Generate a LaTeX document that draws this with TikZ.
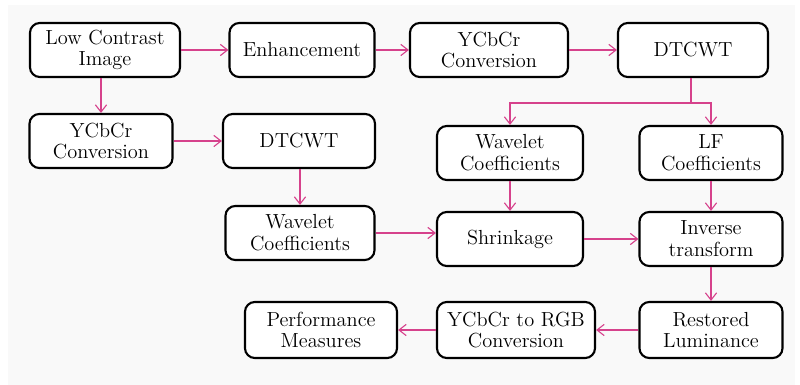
\documentclass[tikz,border=0pt]{standalone}
\usepackage{tikz}
\usetikzlibrary{arrows.meta, positioning, calc}
\definecolor{flowpink}{RGB}{214, 66, 140}
\definecolor{panelgray}{RGB}{249, 249, 249}

\begin{document}
\begin{tikzpicture}[x=0.025cm, y=-0.025cm,
    stagebox/.style={draw=black, line width=1.5pt, fill=white, rounded corners=7pt,
      minimum width=3.65cm, minimum height=1.35cm, align=center, inner sep=2pt,
      font=\fontsize{14.5}{15.5}\selectfont},
    flow/.style={draw=flowpink, line width=0.8pt, -{Straight Barb[length=1.8mm, width=2.8mm]}}]
  \useasboundingbox (0,0) rectangle (800,385);
  \fill[panelgray] (8,5) rectangle (795,385);

  % first row
  \node[stagebox, minimum width=3.75cm] (lowimg) at (105, 50) {Low Contrast\\Image};
  \node[stagebox, minimum width=3.625cm] (enhance) at (302, 50) {Enhancement};
  \node[stagebox, minimum width=3.95cm] (ycbcra) at (489, 50) {YCbCr\\Conversion};
  \node[stagebox, minimum width=3.75cm] (dtcwta) at (693, 50) {DTCWT};

  % second row
  \node[stagebox, minimum width=3.575cm] (ycbcrb) at (101, 141) {YCbCr\\Conversion};
  \node[stagebox, minimum width=3.8cm] (dtcwtb) at (299, 141) {DTCWT};
  \node[stagebox] (waveleta) at (510, 153) {Wavelet\\Coefficients};
  \node[stagebox, minimum width=3.575cm] (lfcoef) at (711, 153) {LF\\Coefficients};

  % third row
  \node[stagebox, minimum width=3.725cm] (waveletb) at (300, 233) {Wavelet\\Coefficients};
  \node[stagebox] (shrink) at (510, 239) {Shrinkage};
  \node[stagebox, minimum width=3.575cm] (inverse) at (711, 239) {Inverse\\transform};

  % last row
  \node[stagebox, minimum width=3.8cm, minimum height=1.4cm] (perf) at (321, 330) {Performance\\Measures};
  \node[stagebox, minimum width=3.95cm, minimum height=1.4cm] (torgb) at (516, 330) {YCbCr to RGB\\Conversion};
  \node[stagebox, minimum width=3.575cm, minimum height=1.4cm] (restored) at (711, 330) {Restored\\Luminance};

  % connectors
  \draw[flow] (lowimg) -- (enhance);
  \draw[flow] (enhance) -- (ycbcra);
  \draw[flow] (ycbcra) -- (dtcwta);
  \draw[flow] (lowimg.south -| ycbcrb) -- (ycbcrb.north);
  \draw[flow] (ycbcrb) -- (dtcwtb);
  \draw[flow] (dtcwtb.south -| waveletb) -- (waveletb.north);

  \coordinate (split) at (691, 103);
  \draw[draw=flowpink, line width=0.8pt] (dtcwta.south -| split) -- (split);
  \draw[flow] (split) -| (waveleta.north);
  \draw[flow] (split) -| (lfcoef.north);

  \draw[flow] (waveleta) -- (shrink);
  \draw[flow] (lfcoef) -- (inverse);
  \draw[flow] (waveletb.east) -- (waveletb.east -| shrink.west);
  \draw[flow] (shrink) -- (inverse);
  \draw[flow] (inverse) -- (restored);
  \draw[flow] (restored) -- (torgb);
  \draw[flow] (torgb) -- (perf);
\end{tikzpicture}
\end{document}
